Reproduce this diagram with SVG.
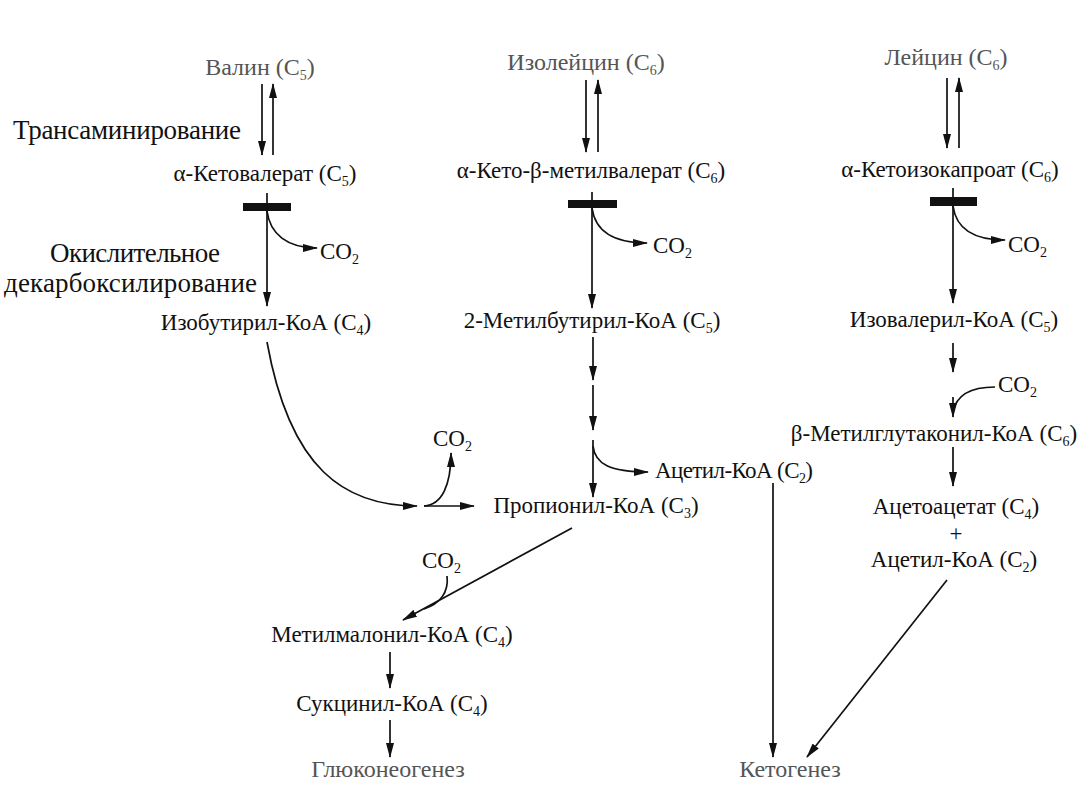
<svg xmlns="http://www.w3.org/2000/svg" width="1088" height="793" viewBox="0 0 1088 793">
<defs>
<marker id="ah" viewBox="0 0 15 8" refX="14" refY="4" markerWidth="15" markerHeight="8" markerUnits="userSpaceOnUse" orient="auto">
<path d="M0,0 L15,4 L0,8 Z" fill="#111"/>
</marker>
</defs>
<style>
text{font-family:"Liberation Serif","DejaVu Serif",serif;fill:#111}
.m{font-size:23px}
.g{font-size:24px;fill:#555}
.big{font-size:27px}
.s{font-size:14px}
.ln{fill:none;stroke:#111;stroke-width:1.7}
.a{marker-end:url(#ah)}
.bar{fill:#111}
</style>
<rect width="1088" height="793" fill="#fff"/>

<g id="labels-side">
<text class="big" x="13" y="139" textLength="228">Трансаминирование</text>
<text class="big" x="50" y="262" textLength="170">Окислительное</text>
<text class="big" x="4" y="292" textLength="253">декарбоксилирование</text>
</g>

<g id="valin"><text class="g" x="260" y="75" text-anchor="middle">Валин (C<tspan class="s" dy="5">5</tspan><tspan dy="-5">)</tspan></text></g>
<g id="ketovalerat"><text class="m" x="265" y="181" text-anchor="middle">α-Кетовалерат (C<tspan class="s" dy="5">5</tspan><tspan dy="-5">)</tspan></text></g>
<g id="co2-1"><text class="m" x="320" y="259">CO<tspan class="s" dy="5">2</tspan></text></g>
<g id="isobutyryl"><text class="m" x="266" y="330" text-anchor="middle">Изобутирил-КоА (C<tspan class="s" dy="5">4</tspan><tspan dy="-5">)</tspan></text></g>

<g id="isoleucin"><text class="g" x="586" y="70" text-anchor="middle">Изолейцин (C<tspan class="s" dy="5">6</tspan><tspan dy="-5">)</tspan></text></g>
<g id="ketomethylvalerat"><text class="m" x="591" y="178" text-anchor="middle">α-Кето-β-метилвалерат (C<tspan class="s" dy="5">6</tspan><tspan dy="-5">)</tspan></text></g>
<g id="co2-2"><text class="m" x="653" y="253">CO<tspan class="s" dy="5">2</tspan></text></g>
<g id="methylbutyryl"><text class="m" x="592" y="328" text-anchor="middle">2-Метилбутирил-КоА (C<tspan class="s" dy="5">5</tspan><tspan dy="-5">)</tspan></text></g>
<g id="acetylcoa-1"><text class="m" x="655" y="478" textLength="158">Ацетил-КоА (C<tspan class="s" dy="5">2</tspan><tspan dy="-5">)</tspan></text></g>
<g id="propionyl"><text class="m" x="596" y="513" text-anchor="middle">Пропионил-КоА (C<tspan class="s" dy="5">3</tspan><tspan dy="-5">)</tspan></text></g>
<g id="co2-3"><text class="m" x="433" y="446">CO<tspan class="s" dy="5">2</tspan></text></g>
<g id="co2-4"><text class="m" x="422" y="568">CO<tspan class="s" dy="5">2</tspan></text></g>
<g id="methylmalonyl"><text class="m" x="392" y="642" text-anchor="middle">Метилмалонил-КоА (C<tspan class="s" dy="5">4</tspan><tspan dy="-5">)</tspan></text></g>
<g id="succinyl"><text class="m" x="392" y="711" text-anchor="middle">Сукцинил-КоА (C<tspan class="s" dy="5">4</tspan><tspan dy="-5">)</tspan></text></g>
<g id="gluconeogenesis"><text class="g" x="388" y="777" text-anchor="middle">Глюконеогенез</text></g>
<g id="ketogenesis"><text class="g" x="790" y="777" text-anchor="middle">Кетогенез</text></g>

<g id="leucin"><text class="g" x="946" y="65" text-anchor="middle">Лейцин (C<tspan class="s" dy="5">6</tspan><tspan dy="-5">)</tspan></text></g>
<g id="ketoisocaproat"><text class="m" x="950" y="177" text-anchor="middle">α-Кетоизокапроат (C<tspan class="s" dy="5">6</tspan><tspan dy="-5">)</tspan></text></g>
<g id="co2-5"><text class="m" x="1008" y="252">CO<tspan class="s" dy="5">2</tspan></text></g>
<g id="isovaleryl"><text class="m" x="954" y="327" text-anchor="middle">Изовалерил-КоА (C<tspan class="s" dy="5">5</tspan><tspan dy="-5">)</tspan></text></g>
<g id="co2-6"><text class="m" x="998" y="392">CO<tspan class="s" dy="5">2</tspan></text></g>
<g id="methylglutaconyl"><text class="m" x="934" y="441" text-anchor="middle">β-Метилглутаконил-КоА (C<tspan class="s" dy="5">6</tspan><tspan dy="-5">)</tspan></text></g>
<g id="acetoacetat"><text class="m" x="956" y="514" text-anchor="middle">Ацетоацетат (C<tspan class="s" dy="5">4</tspan><tspan dy="-5">)</tspan></text></g>
<g id="plus"><text class="m" x="956" y="541" text-anchor="middle">+</text></g>
<g id="acetylcoa-2"><text class="m" x="954" y="567" text-anchor="middle">Ацетил-КоА (C<tspan class="s" dy="5">2</tspan><tspan dy="-5">)</tspan></text></g>

<g id="connectors">
<!-- valine -->
<line class="ln a" x1="262" y1="84" x2="262" y2="155"/>
<line class="ln a" x1="273" y1="155" x2="273" y2="84"/>
<rect class="bar" x="243" y="203" width="48" height="8"/>
<line class="ln a" x1="267" y1="193" x2="267" y2="306"/>
<path class="ln a" d="M267,211 C270,234 287,248 317,248"/>
<!-- isoleucine -->
<line class="ln a" x1="586" y1="80" x2="586" y2="152"/>
<line class="ln a" x1="598" y1="152" x2="598" y2="80"/>
<rect class="bar" x="568" y="200" width="49" height="8"/>
<line class="ln a" x1="592" y1="192" x2="592" y2="308"/>
<path class="ln a" d="M592,208 C595,230 612,243 647,243"/>
<line class="ln a" x1="593" y1="337" x2="593" y2="380"/>
<line class="ln a" x1="593" y1="385" x2="593" y2="430"/>
<line class="ln a" x1="593" y1="440" x2="593" y2="497"/>
<path class="ln a" d="M593,446 C595,464 610,472 648,472"/>
<!-- isobutyryl to propionyl -->
<path class="ln a" d="M267,342 C290,470 345,506 417,506"/>
<line class="ln a" x1="424" y1="506" x2="474" y2="506"/>
<path class="ln a" d="M424,506 C442,505 451,485 451,453"/>
<!-- propionyl to methylmalonyl -->
<line class="ln a" x1="572" y1="528" x2="403" y2="620"/>
<path class="ln" d="M447,576 C449,592 440,604 424,609"/>
<line class="ln a" x1="390" y1="652" x2="390" y2="688"/>
<line class="ln a" x1="390" y1="720" x2="390" y2="757"/>
<!-- acetyl-CoA to ketogenesis -->
<line class="ln a" x1="773" y1="483" x2="773" y2="757"/>
<line class="ln a" x1="947" y1="580" x2="807" y2="757"/>
<!-- leucine -->
<line class="ln a" x1="947" y1="78" x2="947" y2="148"/>
<line class="ln a" x1="959" y1="148" x2="959" y2="78"/>
<rect class="bar" x="930" y="197" width="47" height="9"/>
<line class="ln a" x1="953" y1="188" x2="953" y2="303"/>
<path class="ln a" d="M953,206 C956,228 972,240 1005,240"/>
<line class="ln a" x1="953" y1="343" x2="953" y2="372"/>
<line class="ln a" x1="953" y1="397" x2="953" y2="417"/>
<path class="ln" d="M995,387 C970,387 956,396 953,412"/>
<line class="ln a" x1="953" y1="447" x2="953" y2="486"/>
</g>
</svg>
